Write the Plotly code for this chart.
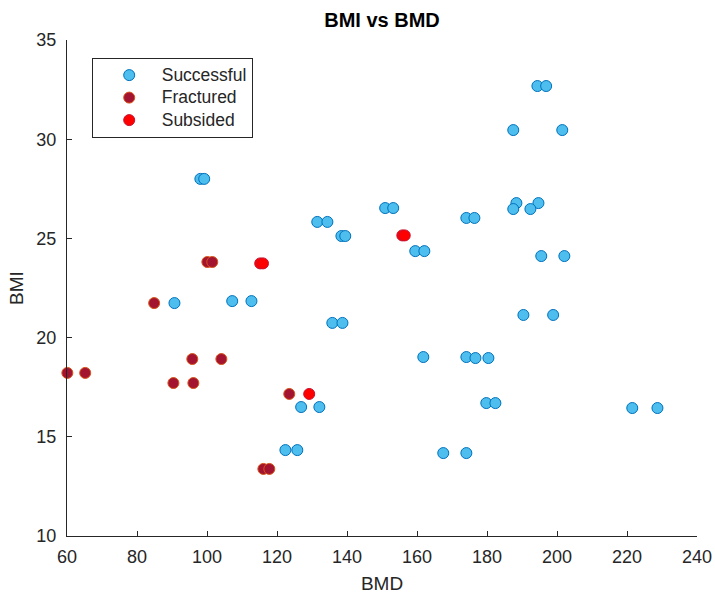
import plotly.graph_objects as go

# Successful implants
succ_bmd = [98.1, 99.2, 90.7, 107.2, 112.7, 131.5, 134.4, 138.4, 139.5, 135.8, 138.7,
            150.9, 153.2, 159.5, 162.1, 174.1, 176.4, 194.4, 196.9, 187.5, 201.5,
            188.4, 187.5, 194.7, 192.4, 195.5, 202.1, 190.4, 198.9, 161.8, 174.1,
            176.7, 180.4, 179.8, 182.4, 221.5, 228.7, 126.9, 132.1, 122.4, 125.8,
            167.5, 174.1]
succ_bmi = [28.0, 28.0, 21.74, 21.84, 21.84, 25.83, 25.83, 25.12, 25.12, 20.74, 20.74,
            26.53, 26.53, 24.36, 24.36, 26.03, 26.03, 32.68, 32.68, 30.46, 30.46,
            26.78, 26.48, 26.78, 26.48, 24.11, 24.11, 21.14, 21.14, 19.02, 19.02,
            18.97, 18.97, 16.70, 16.70, 16.45, 16.45, 16.50, 16.50, 14.33, 14.33,
            14.18, 14.18]

# Fractured implants
frac_bmd = [100.1, 101.5, 84.9, 95.8, 104.1, 60.1, 65.2, 90.4, 96.1, 123.5, 116.1, 117.8]
frac_bmi = [23.81, 23.81, 21.74, 18.92, 18.92, 18.22, 18.22, 17.71, 17.71, 17.16, 13.38, 13.38]

# Subsided implants
subs_bmd = [115.2, 116.0, 155.8, 156.5, 129.2]
subs_bmi = [23.74, 23.74, 25.15, 25.15, 17.16]

x_ticks = [60, 80, 100, 120, 140, 160, 180, 200, 220, 240]
y_ticks = [10, 15, 20, 25, 30, 35]

FONT = "Liberation Sans, Arial, Helvetica, sans-serif"
AXIS_COL = "#262626"
PAD = "\u00a0\u00a0\u00a0"


def legend_name(label):
    # enlarge the legend label text while keeping compact row spacing
    return PAD + '<span style="font-size:17.5px">' + label + "</span>"


fig = go.Figure()
fig.add_trace(go.Scatter(
    x=succ_bmd, y=succ_bmi, mode="markers", name=legend_name("Successful"),
    cliponaxis=False,
    marker=dict(size=11, color="#4DBEEE", line=dict(color="#0072BD", width=1)),
))
fig.add_trace(go.Scatter(
    x=frac_bmd, y=frac_bmi, mode="markers", name=legend_name("Fractured"),
    cliponaxis=False,
    marker=dict(size=11, color="#A2142F", line=dict(color="#D95319", width=1)),
))
fig.add_trace(go.Scatter(
    x=subs_bmd, y=subs_bmi, mode="markers", name=legend_name("Subsided"),
    cliponaxis=False,
    marker=dict(size=11, color="#FF0000", line=dict(color="#C8102E", width=1)),
))

axis_common = dict(
    showgrid=False, zeroline=False, showline=True, linecolor=AXIS_COL, linewidth=1,
    ticks="inside", ticklen=5, tickwidth=1, tickcolor=AXIS_COL,
    tickfont=dict(family=FONT, size=18, color=AXIS_COL),
    mirror=False, automargin=False,
)

fig.update_layout(
    width=715, height=602,
    margin=dict(l=67, r=18, t=40, b=66),
    paper_bgcolor="white", plot_bgcolor="white",
    title=dict(text="<b>BMI vs BMD</b>", x=(67 + 697) / 2 / 715, xanchor="center",
               y=1 - 20 / 602, yanchor="middle",
               font=dict(family=FONT, size=20, color="#000000")),
    xaxis=dict(range=[60, 240], tickvals=x_ticks, ticktext=[str(v) for v in x_ticks],
               ticklabelstandoff=4,
               title=dict(text="BMD", font=dict(family=FONT, size=19, color=AXIS_COL),
                          standoff=11),
               **axis_common),
    yaxis=dict(range=[10, 35], tickvals=y_ticks, ticktext=[str(v) for v in y_ticks],
               ticklabelstandoff=6,
               title=dict(text="BMI", font=dict(family=FONT, size=19, color=AXIS_COL),
                          standoff=7),
               **axis_common),
    legend=dict(x=0.04, y=0.964, xanchor="left", yanchor="top",
                bgcolor="white", bordercolor="#262626", borderwidth=1,
                font=dict(family=FONT, size=15, color=AXIS_COL),
                indentation=16, tracegroupgap=0, itemsizing="trace"),
    showlegend=True,
)

fig.write_html("out.html")
